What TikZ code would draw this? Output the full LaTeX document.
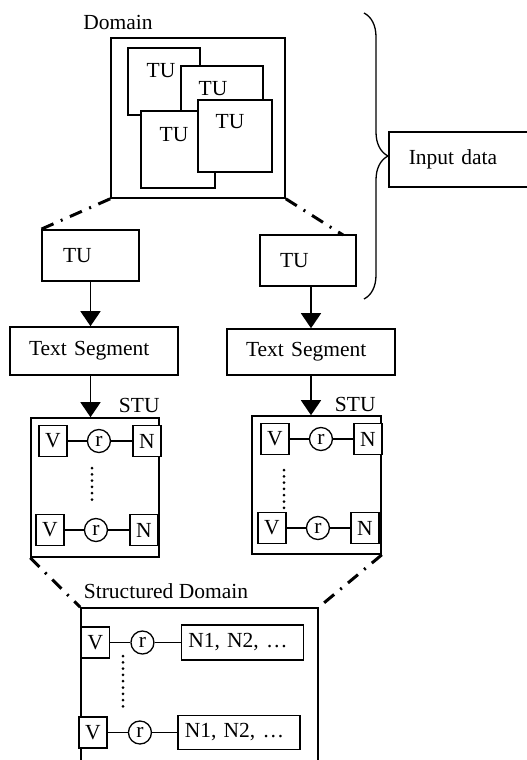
\documentclass[tikz,border=0pt]{standalone}
\usepackage{fontspec}
\setmainfont{Liberation Serif}
\usetikzlibrary{arrows.meta,decorations.pathreplacing,positioning}

\begin{document}
\begin{tikzpicture}[x=1pt,y=-1pt,font=\fontsize{21.5}{24}\selectfont]
		\tikzstyle{box}=[rectangle, draw=black, line width=1.6pt, fill=white, inner sep=0pt]
		\tikzstyle{vbox}=[box, minimum width=28pt, minimum height=31pt]
		\tikzstyle{rel}=[circle, draw=black, line width=1.3pt, minimum size=23pt, inner sep=0pt]
		\tikzstyle{connect}=[line width=1.1pt]
		\tikzstyle{flow}=[line width=1.6pt, -{Triangle[width=20pt,length=15pt]}]
		\tikzstyle{zoomline}=[line width=3pt, dash pattern=on 13pt off 8pt on 2pt off 8pt]
		\tikzstyle{dotline}=[line width=3pt, line cap=round, dash pattern=on 0pt off 6.3pt]
		\tikzstyle{lbl}=[inner sep=0pt]
		\useasboundingbox (0,0) rectangle (527,760);
		
		% domain with its text units
		\node[box, minimum width=174pt, minimum height=160pt] (domain) at (198,118) {};
		\node[lbl] (domainlbl) at (118,22) {Domain};
		\node[box, minimum width=72pt, minimum height=67pt] (tu1) at (164,81.5) {};
		\node[box, minimum width=82pt, minimum height=74pt] (tu2) at (222,103) {};
		\node[box, minimum width=74pt, minimum height=77pt] (tu3) at (178,149.5) {};
		\node[box, minimum width=74pt, minimum height=72pt] (tu4) at (235,136) {};
		\node[lbl] (tu1txt) at (161,71) {TU};
		\node[lbl] (tu2txt) at (213,89) {TU};
		\node[lbl] (tu3txt) at (174,135) {TU};
		\node[lbl] (tu4txt) at (230,122) {TU};
		
		% input data brace
		\node[box, anchor=west, minimum height=55pt, text width=110pt, inner xsep=20pt, align=left] (input) at (388,159.5) {Input data};
		\coordinate (bracetop) at (364,13);
		\coordinate (bracebot) at (364,299);
		\draw[line width=1.3pt, decorate, decoration={brace, amplitude=24pt}] (bracetop) -- (bracebot);
		
		% single units and segments
		\node[box, minimum height=51pt, text width=55pt, inner xsep=21pt, align=left] (tuL) at (90.5,255.5) {TU};
		\node[box, minimum height=51pt, text width=56pt, inner xsep=20pt, align=left] (tuR) at (308,260.5) {TU};
		\node[box, minimum height=48pt, text width=130pt, inner xsep=19pt, align=left] (segL) at (94,351) {Text Segment};
		\node[box, minimum height=46pt, text width=130pt, inner xsep=19pt, align=left] (segR) at (311,352) {Text Segment};
		\coordinate (zoomR) at (343,235);
		
		% STU boxes
		\node[box, fill=none, minimum width=128pt, minimum height=139pt, label={[lbl, anchor=south east, yshift=4pt]north east:STU}] (stuL) at (95,487.5) {};
		\node[box, fill=none, minimum width=129pt, minimum height=138pt, label={[lbl, anchor=south east, xshift=-6pt, yshift=3pt]north east:STU}] (stuR) at (316.5,485) {};
		
		\node[vbox] (v1L) at (53,441) {V};
		\node[rel]  (r1L) [right=19pt of v1L] {r};
		\node[vbox] (n1L) [right=21pt of r1L] {N};
		\node[vbox] (v2L) at (50,530) {V};
		\node[rel]  (r2L) [right=19pt of v2L] {r};
		\node[vbox] (n2L) [right=21pt of r2L] {N};
		\coordinate (dL1) at (92,468);
		\coordinate (dL2) at (92,505);
		
		\node[vbox] (v1R) at (275,439) {V};
		\node[rel]  (r1R) [right=19pt of v1R] {r};
		\node[vbox] (n1R) [right=20pt of r1R] {N};
		\node[vbox] (v2R) at (272,528) {V};
		\node[rel]  (r2R) [right=19pt of v2R] {r};
		\node[vbox] (n2R) [right=20pt of r2R] {N};
		\coordinate (dR1) at (284,470);
		\coordinate (dR2) at (284,510);
		
		% structured domain
		\node[box, fill=none, minimum width=237pt, minimum height=170pt] (sd) at (199.5,693) {};
		\node[lbl] (sdlbl) at (166,591) {Structured Domain};
		\node[vbox] (v1S) at (95.5,642.5) {V};
		\node[rel]  (r1S) [right=20pt of v1S] {r};
		\node[box, minimum height=35pt, text width=108pt, inner xsep=7pt, align=left] (n1S) [right=26pt of r1S] {N1, N2, …};
		\node[vbox] (v2S) at (93,732.5) {V};
		\node[rel]  (r2S) [right=20pt of v2S] {r};
		\node[box, minimum height=34pt, text width=108pt, inner xsep=7pt, align=left] (n2S) [right=25pt of r2S] {N1, N2, …};
		\coordinate (dS1) at (123,656);
		\coordinate (dS2) at (123,708);
		
		\path 
		(v1L) edge [connect] (r1L)
		(r1L) edge [connect] (n1L)
		(v2L) edge [connect] (r2L)
		(r2L) edge [connect] (n2L)
		(v1R) edge [connect] (r1R)
		(r1R) edge [connect] (n1R)
		(v2R) edge [connect] (r2R)
		(r2R) edge [connect] (n2R)
		(v1S) edge [connect] (r1S)
		(r1S) edge [connect] (n1S)
		(v2S) edge [connect] (r2S)
		(r2S) edge [connect] (n2S)
		
		(dL1) edge [dotline] (dL2)
		(dR1) edge [dotline] (dR2)
		(dS1) edge [dotline] (dS2)
		
		(domain.south west) edge [zoomline] (tuL.north west)
		(domain.south east) edge [zoomline] (zoomR)
		(stuL.south west) edge [zoomline] (sd.north west)
		(stuR.south east) edge [zoomline] (sd.north east)
		;
		
		\draw[flow] (tuL.south) -- (tuL.south |- segL.north);
		\draw[flow] (tuL.south |- segL.south) -- (tuL.south |- stuL.north);
		\draw[flow] (segR.north |- tuR.south) -- (segR.north);
		\draw[flow] (segR.south) -- (segR.south |- stuR.north);
		
\end{tikzpicture}
\end{document}
